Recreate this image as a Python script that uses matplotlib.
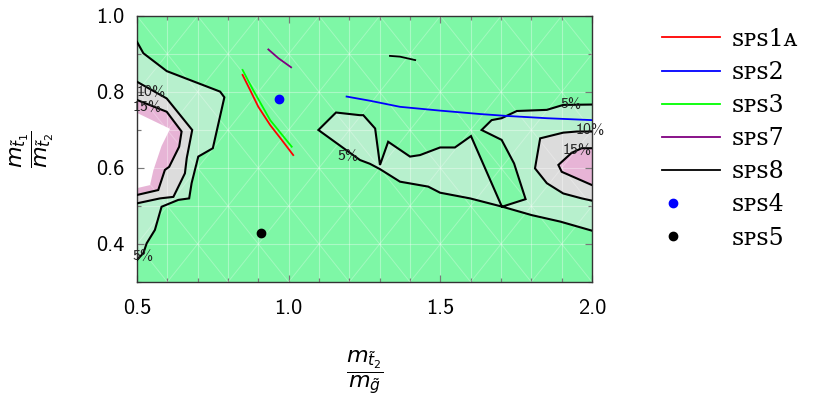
import numpy as np
import matplotlib
matplotlib.use("Agg")
import matplotlib.pyplot as plt
from matplotlib.legend_handler import HandlerLine2D
from matplotlib.ticker import MultipleLocator, FixedLocator

plt.rcParams['font.family'] = 'cmss10'
plt.rcParams['axes.unicode_minus'] = False
plt.rcParams['mathtext.fontset'] = 'dejavusans'

# ---------------- data ----------------
# benchmark lines / points (x = m_t2/m_gluino, y = m_t1/m_t2)
sps1a_x = [0.848, 0.873, 0.900, 0.939, 0.977, 1.015]
sps1a_y = [0.845, 0.805, 0.761, 0.713, 0.674, 0.634]
sps2_x = [1.191, 1.268, 1.367, 1.499, 1.631, 1.719, 1.851, 2.0]
sps2_y = [0.788, 0.777, 0.761, 0.751, 0.742, 0.737, 0.731, 0.726]
sps3_x = [0.848, 0.883, 0.939, 1.010]
sps3_y = [0.858, 0.805, 0.726, 0.656]
sps7_x = [0.933, 0.966, 1.008]
sps7_y = [0.912, 0.889, 0.865]
sps8_x = [1.334, 1.367, 1.417]
sps8_y = [0.895, 0.893, 0.884]
sps4_x, sps4_y = [0.969], [0.782]
sps5_x, sps5_y = [0.909], [0.428]

# contour boundaries
left5_x = [0.5, 0.521, 0.598, 0.774, 0.788, 0.750, 0.702, 0.680, 0.672, 0.636, 0.581, 0.559, 0.532, 0.521, 0.5]
left5_y = [0.932, 0.902, 0.855, 0.801, 0.786, 0.652, 0.630, 0.560, 0.520, 0.516, 0.498, 0.437, 0.402, 0.376, 0.358]
left10_x = [0.5, 0.598, 0.682, 0.664, 0.658, 0.620, 0.576, 0.5]
left10_y = [0.827, 0.783, 0.700, 0.626, 0.586, 0.524, 0.520, 0.507]
left15_x = [0.5, 0.598, 0.647, 0.639, 0.606, 0.592, 0.570, 0.5]
left15_y = [0.779, 0.748, 0.696, 0.656, 0.603, 0.595, 0.542, 0.529]
left20_x = [0.5, 0.609, 0.581, 0.554, 0.543, 0.5]
left20_y = [0.745, 0.703, 0.658, 0.594, 0.555, 0.547]

mid5_x = [2.0, 1.905, 1.851, 1.752, 1.702, 1.669, 1.636, 1.702, 1.743, 1.781, 1.703,
          1.601, 1.548, 1.499, 1.433, 1.400, 1.328, 1.301, 1.285, 1.246, 1.235, 1.156,
          1.098, 1.235, 1.268, 1.301, 1.367, 1.460, 1.499, 1.598, 1.705, 1.801, 1.895, 2.0]
mid5_y = [0.767, 0.766, 0.753, 0.750, 0.731, 0.726, 0.700, 0.674, 0.612, 0.518, 0.498,
          0.684, 0.654, 0.654, 0.634, 0.630, 0.669, 0.608, 0.704, 0.739, 0.739, 0.746,
          0.700, 0.621, 0.611, 0.597, 0.564, 0.551, 0.535, 0.520, 0.498, 0.476, 0.459, 0.435]
right10_x = [2.0, 1.950, 1.905, 1.829, 1.812, 1.851, 1.905, 1.966, 2.0]
right10_y = [0.696, 0.696, 0.693, 0.678, 0.599, 0.560, 0.533, 0.520, 0.514]
right15_x = [2.0, 1.966, 1.933, 1.889, 1.900, 2.0]
right15_y = [0.652, 0.652, 0.640, 0.608, 0.590, 0.555]

label_x = [0.547, 0.535, 0.520, 1.197, 1.932, 1.995, 1.951]
label_y = [0.800, 0.760, 0.367, 0.630, 0.766, 0.700, 0.647]
label_txt = ['10%', '15%', '5%', '5%', '5%', '10%', '15%']

# ---------------- style ----------------
C_BG = '#7ef7a6'
C5 = '#b7f0cd'
C10 = '#dcdcdc'
C15 = '#e7b4d6'
C20 = '#ffffff'

fig = plt.figure(figsize=(8.13, 3.96), dpi=100)
ax = fig.add_axes([0.1685, 0.2879, 0.5597, 0.6717])
ax.set_facecolor(C_BG)
ax.set_xlim(0.5, 2.0)
ax.set_ylim(0.3, 1.0)

# filled regions
for xs, ys, c in [(left5_x, left5_y, C5), (left10_x, left10_y, C10),
                  (left15_x, left15_y, C15), (left20_x, left20_y, C20),
                  (mid5_x, mid5_y, C5), (right10_x, right10_y, C10),
                  (right15_x, right15_y, C15)]:
    ax.fill(xs, ys, color=c, lw=0, zorder=1)

# faint mesh
gx = np.round(np.arange(0.5, 2.0001, 0.1), 3)
gy = np.round(np.arange(0.3, 1.0001, 0.1), 3)
for v in gx:
    ax.axvline(v, color='white', alpha=0.35, lw=0.8, zorder=2)
for v in gy:
    ax.axhline(v, color='white', alpha=0.35, lw=0.8, zorder=2)
tt = np.array([0.3, 2.0])
for c in np.arange(-2.1, 1.0, 0.2):
    ax.plot(tt + 0.0, tt + c, color='white', alpha=0.28, lw=0.7, zorder=2)
for c in np.arange(-0.1, 3.2, 0.2):
    ax.plot(tt, -tt + c, color='white', alpha=0.28, lw=0.7, zorder=2)

# contour lines
for xs, ys in [(left5_x, left5_y), (left10_x, left10_y), (left15_x, left15_y),
               (mid5_x, mid5_y), (right10_x, right10_y), (right15_x, right15_y)]:
    ax.plot(xs, ys, color='black', lw=1.5, zorder=3, solid_joinstyle='miter')

for x, y, t in zip(label_x, label_y, label_txt):
    ax.text(x, y, t, fontsize=11.5, color='#222222', ha='center', va='center', zorder=6)

# benchmarks
l1, = ax.plot(sps1a_x, sps1a_y, color='red', lw=1.3, zorder=4)
l2, = ax.plot(sps2_x, sps2_y, color='blue', lw=1.3, zorder=4)
l3, = ax.plot(sps3_x, sps3_y, color='#00ff00', lw=1.3, zorder=4)
l7, = ax.plot(sps7_x, sps7_y, color='purple', lw=1.3, zorder=4)
l8, = ax.plot(sps8_x, sps8_y, color='black', lw=1.3, zorder=4)
p4, = ax.plot(sps4_x, sps4_y, 'o', color='blue', ms=6, zorder=5)
p5, = ax.plot(sps5_x, sps5_y, 'o', color='black', ms=6, zorder=5)

ax.set_xlim(0.5, 2.0)
ax.set_ylim(0.3, 1.0)

# ticks
ax.xaxis.set_major_locator(FixedLocator([0.5, 1.0, 1.5, 2.0]))
ax.xaxis.set_minor_locator(MultipleLocator(0.1))
ax.yaxis.set_major_locator(FixedLocator([0.4, 0.6, 0.8, 1.0]))
ax.yaxis.set_minor_locator(MultipleLocator(0.1))
ax.xaxis.set_major_formatter(plt.FuncFormatter(lambda v, p: f"{v:.1f}"))
ax.yaxis.set_major_formatter(plt.FuncFormatter(lambda v, p: f"{v:.1f}"))
ax.tick_params(which='both', direction='in', top=True, right=True, color='#333333')
ax.tick_params(which='major', length=5, width=0.8, labelsize=16)
ax.tick_params(which='minor', length=3, width=0.8)
ax.tick_params(axis='x', which='major', pad=12)
ax.tick_params(axis='y', which='major', pad=9)
for s in ax.spines.values():
    s.set_color('#333333')
    s.set_linewidth(1.0)

ax.set_xlabel(r'$\dfrac{m_{\tilde{t}_2}}{m_{\tilde{g}}}$', fontsize=16)
ax.xaxis.set_label_coords(0.5, -0.34)
ax.xaxis.label.set_va('center')
ax.set_ylabel(r'$\dfrac{m_{\tilde{t}_1}}{m_{\tilde{t}_2}}$', fontsize=16)
ax.yaxis.set_label_coords(-0.23, 0.5)
ax.yaxis.label.set_va('center')


class DotHandler(HandlerLine2D):
    def get_xdata(self, legend, xdescent, ydescent, width, height, fontsize):
        x = -xdescent + 0.2 * width
        return np.array([x, x]), np.array([x, x])


labels = ['ꜱᴘꜱ1ᴀ', 'ꜱᴘꜱ2', 'ꜱᴘꜱ3', 'ꜱᴘꜱ7', 'ꜱᴘꜱ8', 'ꜱᴘꜱ4', 'ꜱᴘꜱ5']
handles = [l1, l2, l3, l7, l8, p4, p5]
leg = fig.legend(handles, labels, loc='upper left', bbox_to_anchor=(0.814, 0.93),
                 frameon=False, borderpad=0, borderaxespad=0, handlelength=2.45,
                 handletextpad=0.5, labelspacing=0.43, numpoints=1,
                 prop={'family': ['DejaVu Serif', 'DejaVu Sans'], 'size': 17},
                 handler_map={p4: DotHandler(), p5: DotHandler()})

fig.savefig('out.png', dpi=100)
